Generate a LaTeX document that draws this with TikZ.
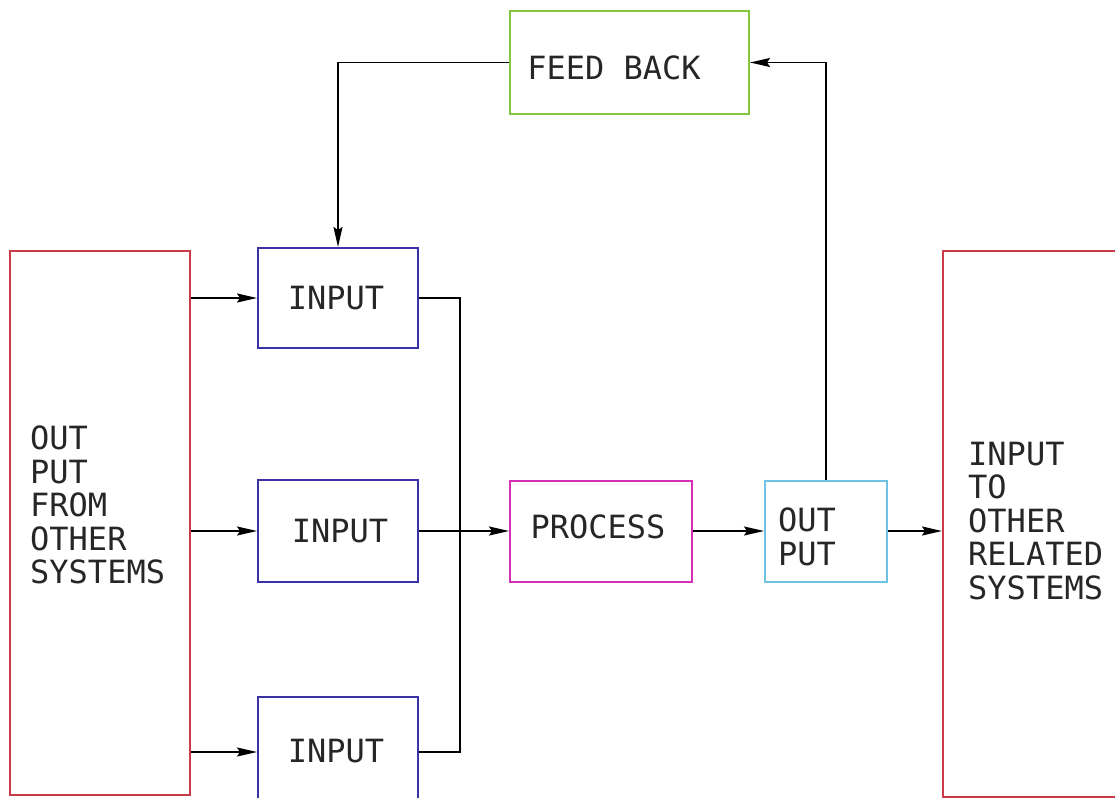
\documentclass[tikz,border=0pt]{standalone}
\usepackage{fontspec}
\setmonofont{DejaVu Sans Mono}
\usetikzlibrary{arrows.meta,calc}
\definecolor{sysred}{HTML}{CC3A4A}
\definecolor{inblue}{HTML}{3B32A6}
\definecolor{procmag}{HTML}{D22FB4}
\definecolor{outcyan}{HTML}{6CC3E2}
\definecolor{fbgreen}{HTML}{86C63E}
\begin{document}
\begin{tikzpicture}[x=1pt,y=-1pt,
  box/.style={draw, line width=2pt, inner sep=0pt, rectangle},
  lbl/.style={font=\ttfamily\fontsize{32}{33.5}\selectfont, inner sep=0pt, text=black!85},
  blk/.style={lbl, align=left, anchor=west},
  arr/.style={line width=1.8pt, -{Stealth[length=20pt,width=9pt,inset=3pt]}},
  wire/.style={line width=1.8pt}]
\useasboundingbox (0,0) rectangle (1115,797);
% boxes
\node[box, draw=sysred, minimum width=180pt, minimum height=544pt] (src) at (100,523) {};
\node[box, draw=sysred, minimum width=190pt, minimum height=546pt] (dst) at (1038,524) {};
\node[box, draw=inblue, minimum width=160pt, minimum height=100pt] (in1) at (338,298) {};
\node[box, draw=inblue, minimum width=160pt, minimum height=102pt] (in2) at (338,531) {};
\node[box, draw=inblue, minimum width=160pt, minimum height=110pt] (in3) at (338,752) {};
\node[box, draw=procmag, minimum width=182pt, minimum height=101pt] (proc) at (601,531) {};
\node[box, draw=outcyan, minimum width=122pt, minimum height=101pt] (out) at (826,531) {};
\node[box, draw=fbgreen, minimum width=239pt, minimum height=103pt] (fb) at (629.5,62.5) {};
% texts
\node[blk] (srct) at (30,505) {OUT\\PUT\\FROM\\OTHER\\SYSTEMS};
\node[blk] (dstt) at (968,521) {INPUT\\TO\\OTHER\\RELATED\\SYSTEMS};
\node[lbl] (in1t) at (336,298) {INPUT};
\node[lbl] (in2t) at (340,531) {INPUT};
\node[lbl] (in3t) at (336,751) {INPUT};
\node[lbl] (proct) at (598,527) {PROCESS};
\node[blk] (outt) at (778,537) {OUT\\PUT};
\node[lbl] (fbt) at (614,68) {FEED BACK};
% connectors
\coordinate (bus) at (460,0);
\draw[arr] (src.east |- in1.west) -- (in1.west);
\draw[arr] (src.east |- in2.west) -- (in2.west);
\draw[arr] (src.east |- in3.west) -- (in3.west);
\draw[wire] (in1.east) -- (in1.east -| bus) -- (in3.east -| bus) -- (in3.east);
\draw[arr] (in2.east) -- (proc.west);
\draw[arr] (proc.east) -- (out.west);
\draw[arr] (out.east) -- (dst.west |- out.east);
\draw[arr] (out.north) |- (fb.east);
\draw[arr] (fb.west) -| (in1.north);
\end{tikzpicture}
\end{document}
